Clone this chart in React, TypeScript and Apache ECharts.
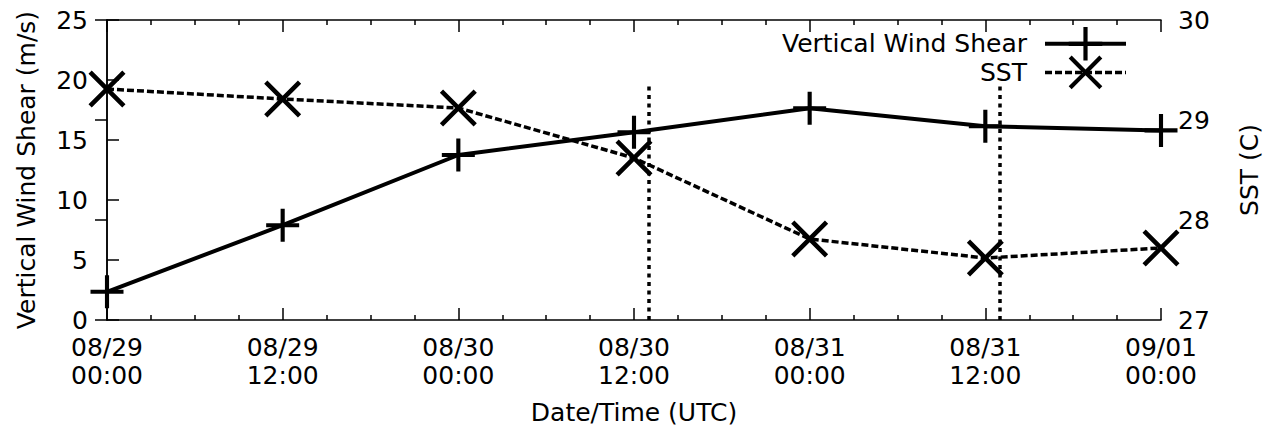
import React, { useEffect, useRef } from "react";
import * as echarts from "echarts";

const hours = [0, 12, 24, 36, 48, 60, 72];
const timeLabels = [
  "08/29\n00:00",
  "08/29\n12:00",
  "08/30\n00:00",
  "08/30\n12:00",
  "08/31\n00:00",
  "08/31\n12:00",
  "09/01\n00:00",
];
const windShear = [2.35, 7.9, 13.75, 15.65, 17.65, 16.15, 15.8];
const sst = [29.31, 29.21, 29.12, 28.62, 27.81, 27.62, 27.72];
const markerHours = [37, 61];
const markerTop = 19.6;

const PLUS =
  "path://M14,0L18,0L18,14L32,14L32,18L18,18L18,32L14,32L14,18L0,18L0,14L14,14Z";
const CROSS =
  "path://M2.8,0L16,13.2L29.2,0L32,2.8L18.8,16L32,29.2L29.2,32L16,18.8L2.8,32L0,29.2L13.2,16L0,2.8Z";

const FONT = "DejaVu Sans";

export default function App() {
  const ref = useRef<HTMLDivElement>(null);
  useEffect(() => {
    if (!ref.current) return;
    document.body.style.margin = "0";
    const chart = echarts.init(ref.current, undefined, { renderer: "svg" });
    const txt = { fontFamily: FONT, fontSize: 25, color: "#000" };
    const axisLine = { show: true, lineStyle: { color: "#000", width: 1.5 } };
    const tick = { show: true, inside: true, length: 12, lineStyle: { color: "#000", width: 1.5 } };
    const minor = { show: true, splitNumber: 4, length: 5, lineStyle: { color: "#000", width: 1.5 } };
    const shearLine = { color: "#000", width: 4, type: "solid" };
    const sstLine = { color: "#000", width: 3.5, type: [7, 3] };
    chart.setOption({
      animation: false,
      backgroundColor: "#fff",
      grid: {
        left: 107,
        right: 105,
        top: 20,
        bottom: 118,
        containLabel: false,
        outerBoundsMode: "none",
      },
      legend: {
        orient: "vertical",
        right: 133,
        top: 22,
        align: "right",
        itemWidth: 81,
        itemHeight: 42,
        itemGap: -5,
        textStyle: { ...txt, padding: [0, 13, 0, 0] },
        data: [
          { name: "Vertical Wind Shear", lineStyle: shearLine },
          { name: "SST", lineStyle: sstLine },
        ],
        selectedMode: false,
      },
      xAxis: [
        {
          type: "value",
          min: 0,
          max: 72,
          interval: 12,
          position: "bottom",
          name: "Date/Time (UTC)",
          nameLocation: "middle",
          nameGap: 80,
          nameTextStyle: txt,
          axisLine,
          axisTick: tick,
          minorTick: minor,
          splitLine: { show: false },
          axisLabel: {
            ...txt,
            margin: 13,
            lineHeight: 28,
            formatter: (v: number) => timeLabels[hours.indexOf(v)] ?? "",
          },
        },
        {
          type: "value",
          min: 0,
          max: 72,
          interval: 12,
          position: "top",
          axisLine,
          axisTick: tick,
          minorTick: minor,
          splitLine: { show: false },
          axisLabel: { show: false },
        },
      ],
      yAxis: [
        {
          type: "value",
          min: 0,
          max: 25,
          interval: 5,
          position: "left",
          name: "Vertical Wind Shear (m/s)",
          nameLocation: "middle",
          nameGap: 68,
          nameTextStyle: txt,
          axisLine,
          axisTick: tick,
          splitLine: { show: false },
          axisLabel: { ...txt, margin: 19 },
        },
        {
          type: "value",
          min: 27,
          max: 30,
          interval: 1,
          position: "right",
          name: "SST (C)",
          nameLocation: "middle",
          nameGap: 75,
          nameTextStyle: { ...txt, lineHeight: 26 },
          axisLine,
          axisTick: tick,
          splitLine: { show: false },
          axisLabel: { ...txt, margin: 17 },
        },
      ],
      series: [
        {
          name: "Vertical Wind Shear",
          type: "line",
          xAxisIndex: 0,
          yAxisIndex: 0,
          data: hours.map((h, i) => [h, windShear[i]]),
          symbol: PLUS,
          symbolSize: 33,
          symbolKeepAspect: true,
          itemStyle: { color: "#000", borderWidth: 0 },
          lineStyle: shearLine,
          clip: false,
          z: 3,
          markLine: {
            silent: true,
            symbol: ["none", "none"],
            label: { show: false },
            lineStyle: { color: "#000", width: 3.5, type: [4, 4.5] },
            data: markerHours.map((h) => [
              { coord: [h, 0] },
              { coord: [h, markerTop] },
            ]),
          },
        },
        {
          name: "SST",
          type: "line",
          xAxisIndex: 0,
          yAxisIndex: 1,
          data: hours.map((h, i) => [h, sst[i]]),
          symbol: CROSS,
          symbolSize: 37,
          symbolKeepAspect: true,
          itemStyle: { color: "#000", borderWidth: 0 },
          lineStyle: sstLine,
          clip: false,
          z: 3,
        },
      ],
    });
    return () => chart.dispose();
  }, []);
  return (
    <div
      ref={ref}
      style={{ position: "fixed", left: 0, top: 0, width: 1266, height: 438 }}
    />
  );
}
